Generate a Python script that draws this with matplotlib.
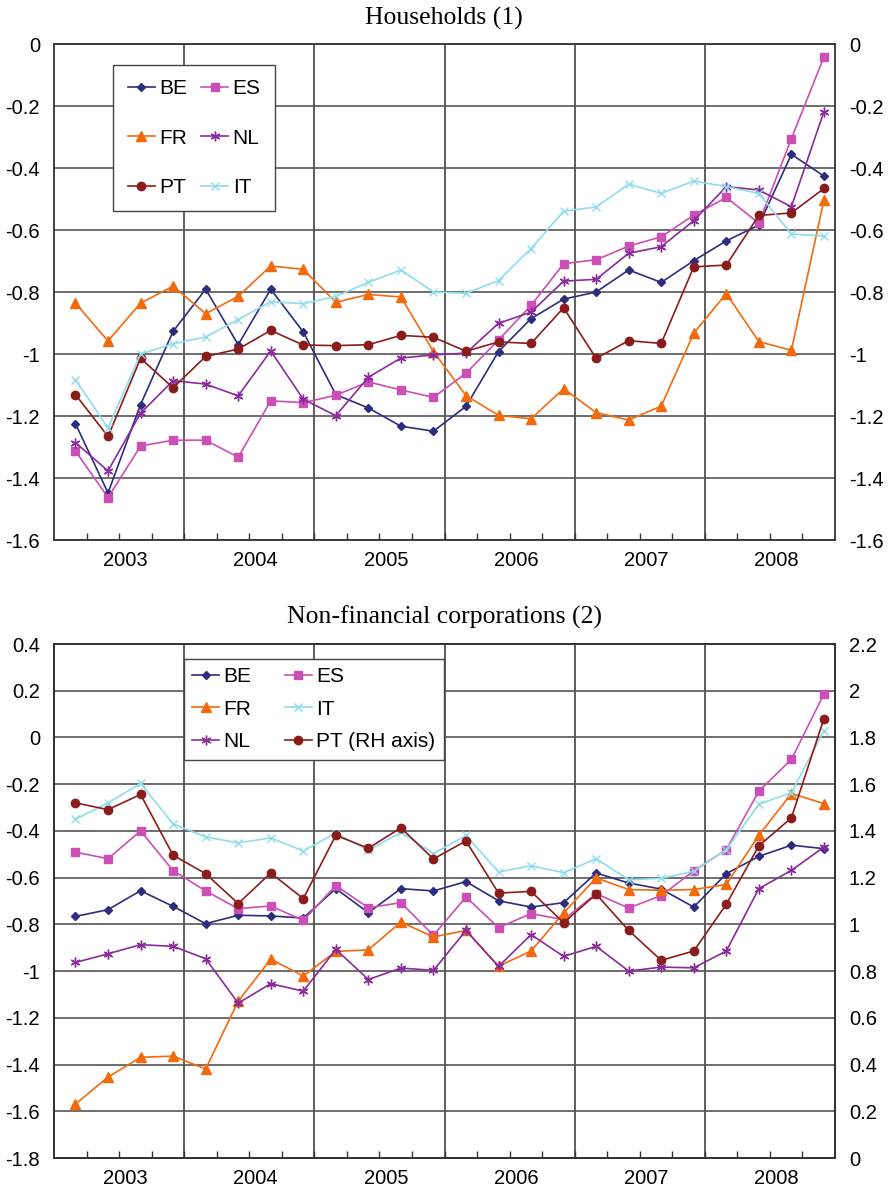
import matplotlib
matplotlib.use("Agg")
import matplotlib.pyplot as plt
from matplotlib.ticker import FixedLocator, FuncFormatter

# kwartalen 2003Q1 .. 2008Q4
years = ["2003", "2004", "2005", "2006", "2007", "2008"]

# Households (1)
hh_be = [-1.225, -1.448, -1.163, -0.927, -0.791, -0.970, -0.791, -0.929, -1.131, -1.174, -1.233, -1.249,
         -1.169, -0.992, -0.886, -0.823, -0.800, -0.729, -0.769, -0.699, -0.635, -0.584, -0.356, -0.426]
hh_es = [-1.313, -1.463, -1.297, -1.278, -1.278, -1.333, -1.151, -1.157, -1.133, -1.090, -1.116, -1.140,
         -1.062, -0.955, -0.843, -0.709, -0.696, -0.652, -0.622, -0.552, -0.495, -0.578, -0.305, -0.042]
hh_fr = [-0.836, -0.958, -0.836, -0.781, -0.870, -0.814, -0.716, -0.727, -0.833, -0.808, -0.816, -0.992,
         -1.134, -1.198, -1.209, -1.112, -1.189, -1.213, -1.168, -0.933, -0.805, -0.960, -0.988, -0.503]
hh_nl = [-1.286, -1.377, -1.191, -1.086, -1.097, -1.135, -0.990, -1.146, -1.199, -1.075, -1.013, -1.003,
         -0.997, -0.901, -0.865, -0.765, -0.759, -0.675, -0.654, -0.570, -0.460, -0.471, -0.525, -0.218]
hh_pt = [-1.131, -1.266, -1.014, -1.109, -1.008, -0.984, -0.924, -0.971, -0.973, -0.970, -0.940, -0.946,
         -0.991, -0.961, -0.966, -0.851, -1.014, -0.957, -0.966, -0.719, -0.713, -0.553, -0.545, -0.466]
hh_it = [-1.083, -1.238, -1.000, -0.967, -0.945, -0.889, -0.831, -0.838, -0.814, -0.769, -0.729, -0.800,
         -0.804, -0.763, -0.660, -0.539, -0.526, -0.452, -0.482, -0.442, -0.460, -0.482, -0.613, -0.619]

# Non-financial corporations (2), PT op de rechteras
nfc_be = [-0.766, -0.737, -0.656, -0.723, -0.797, -0.761, -0.764, -0.773, -0.647, -0.750, -0.647, -0.657,
          -0.617, -0.699, -0.726, -0.707, -0.580, -0.623, -0.649, -0.726, -0.583, -0.509, -0.461, -0.476]
nfc_es = [-0.491, -0.519, -0.400, -0.570, -0.657, -0.733, -0.721, -0.783, -0.634, -0.729, -0.707, -0.847,
          -0.683, -0.814, -0.754, -0.780, -0.669, -0.730, -0.677, -0.571, -0.480, -0.230, -0.094, 0.186]
nfc_fr = [-1.569, -1.454, -1.369, -1.364, -1.419, -1.129, -0.949, -1.021, -0.916, -0.909, -0.790, -0.854,
          -0.826, -0.979, -0.914, -0.751, -0.601, -0.651, -0.654, -0.651, -0.629, -0.419, -0.240, -0.283]
nfc_it = [-0.350, -0.280, -0.197, -0.370, -0.426, -0.451, -0.430, -0.486, -0.409, -0.483, -0.406, -0.497,
          -0.419, -0.576, -0.549, -0.579, -0.519, -0.609, -0.603, -0.573, -0.480, -0.286, -0.236, 0.029]
nfc_nl = [-0.963, -0.926, -0.887, -0.894, -0.947, -1.137, -1.054, -1.086, -0.907, -1.036, -0.987, -0.997,
          -0.826, -0.980, -0.844, -0.937, -0.894, -1.000, -0.983, -0.986, -0.914, -0.647, -0.569, -0.469]
nfc_pt = [1.520, 1.491, 1.556, 1.296, 1.217, 1.089, 1.220, 1.110, 1.381, 1.326, 1.413, 1.280,
          1.357, 1.134, 1.141, 1.007, 1.129, 0.974, 0.846, 0.886, 1.086, 1.336, 1.456, 1.881]

C_BE, C_ES, C_FR = "#2e2c7e", "#cc4fb5", "#f26a0c"
C_NL, C_PT, C_IT = "#8b2a9c", "#8b1c1c", "#8fdcea"
GRID = "#555555"

SANS = ["Liberation Sans", "DejaVu Sans"]
SERIF = ["Liberation Serif", "DejaVu Serif"]
plt.rcParams["font.family"] = SANS
plt.rcParams["axes.unicode_minus"] = False

W, H = 888, 1189
fig = plt.figure(figsize=(W / 100, H / 100), dpi=100)

nq = len(hh_be)
x = [i + 0.66 for i in range(nq)]
year_pos = [4 * k + 2.2 for k in range(len(years))]
year_edges = [4 * k for k in range(1, len(years))]


def fmt(v, pos):
    return f"{round(v, 1):g}"


def style_axes(ax, ymin, ymax):
    ax.set_xlim(0, nq)
    ax.set_ylim(ymin, ymax)
    ax.set_yticks([round(ymin + 0.2 * k, 1) for k in range(int(round((ymax - ymin) / 0.2)) + 1)])
    ax.yaxis.set_major_formatter(FuncFormatter(fmt))
    ax.set_xticks(year_pos)
    ax.set_xticklabels(years)
    ax.xaxis.set_minor_locator(FixedLocator(range(1, nq)))
    ax.tick_params(axis="x", which="major", length=0, labelsize=14.5, pad=8)
    ax.tick_params(axis="x", which="minor", direction="in", length=5, width=1, color="#333333")
    ax.tick_params(axis="y", length=0, labelsize=14.5, pad=10)
    ax.grid(axis="y", color=GRID, linewidth=1.2)
    for xe in year_edges:
        ax.axvline(xe, color="#333333", linewidth=1.1, zorder=1)
    for s in ax.spines.values():
        s.set_color("#333333")
        s.set_linewidth(1.3)


def line(ax, y, c, m, ms, label, mew=1.0):
    return ax.plot(x, y, color=c, marker=m, markersize=ms, markeredgewidth=mew,
                   linewidth=1.2, label=label, zorder=3)[0]


# ---- Households ----
ax1 = fig.add_axes([54 / W, 1 - 540 / H, 781 / W, 496 / H])
style_axes(ax1, -1.6, 0.0)
h_be = line(ax1, hh_be, C_BE, "D", 4.5, "BE")
h_es = line(ax1, hh_es, C_ES, "s", 5.5, "ES")
h_fr = line(ax1, hh_fr, C_FR, "^", 6.5, "FR")
h_nl = line(ax1, hh_nl, C_NL, (6, 2, 0), 7, "NL")
h_pt = line(ax1, hh_pt, C_PT, "o", 6, "PT")
h_it = line(ax1, hh_it, C_IT, "x", 6, "IT")
ax1.tick_params(axis="y", labelright=True)
ax1.legend(handles=[h_be, h_fr, h_pt, h_es, h_nl, h_it], ncol=2, loc="upper left",
           bbox_to_anchor=(0.0755, 0.958), borderaxespad=0, fontsize=15,
           handlelength=1.3, handletextpad=0.2, columnspacing=0.7, labelspacing=1.45,
           borderpad=0.7, fancybox=False, framealpha=1, edgecolor="#444444")
fig.text(444 / W, 1 - 18 / H, "Households (1)", ha="center", va="center",
         family=SERIF, fontsize=18.5)

# ---- Non-financial corporations ----
ax2 = fig.add_axes([54 / W, 1 - 1158 / H, 781 / W, 514 / H])
style_axes(ax2, -1.8, 0.4)
n_be = line(ax2, nfc_be, C_BE, "D", 4.5, "BE")
n_es = line(ax2, nfc_es, C_ES, "s", 5.5, "ES")
n_fr = line(ax2, nfc_fr, C_FR, "^", 6.5, "FR")
n_it = line(ax2, nfc_it, C_IT, "x", 6, "IT")
n_nl = line(ax2, nfc_nl, C_NL, (6, 2, 0), 7, "NL")
ax2r = ax2.twinx()
ax2r.set_ylim(0, 2.2)
ax2r.set_yticks([round(0.2 * k, 1) for k in range(12)])
ax2r.yaxis.set_major_formatter(FuncFormatter(fmt))
ax2r.tick_params(axis="y", length=0, labelsize=14.5, pad=10)
for s in ax2r.spines.values():
    s.set_color("#333333")
    s.set_linewidth(1.3)
n_pt = line(ax2r, nfc_pt, C_PT, "o", 6, "PT (RH axis)")
ax2r.legend(handles=[n_be, n_fr, n_nl, n_es, n_it, n_pt], ncol=2, loc="upper left",
            bbox_to_anchor=(0.1665, 0.971), borderaxespad=0, fontsize=15,
            handlelength=1.3, handletextpad=0.2, columnspacing=1.6, labelspacing=0.65,
            borderpad=0.4, fancybox=False, framealpha=1, edgecolor="#444444")
fig.text(444 / W, 1 - 617 / H, "Non-financial corporations (2)", ha="center", va="center",
         family=SERIF, fontsize=18.5)

fig.savefig("out.png", dpi=100)
